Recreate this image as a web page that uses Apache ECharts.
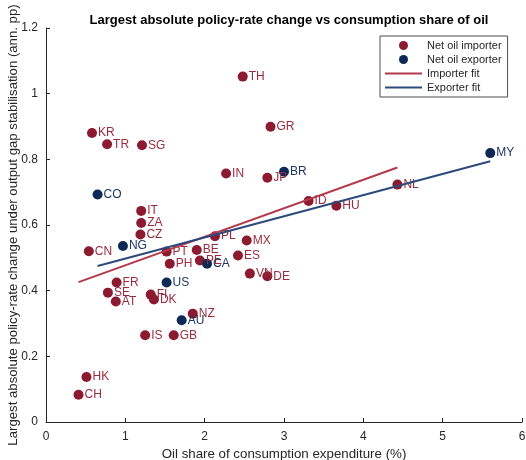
<!DOCTYPE html>
<html>
<head>
<meta charset="utf-8">
<script src="https://cdn.jsdelivr.net/npm/echarts@6/dist/echarts.min.js"></script>
<style>
  html, body { margin: 0; padding: 0; background: #fff; }
  #chart { width: 526px; height: 460px; }
</style>
</head>
<body>
<div id="chart"></div>
<script>
// Net oil importers: country code, oil share of consumption (%), policy-rate change (pp)
var importerCodes = ['KR','TR','SG','IT','ZA','CZ','CN','PT','BE','PE','PH','FR','SE','AT','FI','DK','NZ','IS','GB','HK','CH','IN','JP','ID','PL','MX','ES','VN','DE','NL','HU','TH','GR'];
var importerShare = [0.58,0.77,1.21,1.20,1.20,1.19,0.54,1.52,1.90,1.94,1.56,0.89,0.78,0.88,1.32,1.36,1.85,1.25,1.61,0.51,0.41,2.27,2.79,3.31,2.13,2.53,2.42,2.57,2.79,4.43,3.66,2.48,2.83];
var importerChange = [0.880,0.846,0.843,0.643,0.606,0.571,0.520,0.519,0.524,0.492,0.482,0.425,0.394,0.367,0.388,0.373,0.330,0.264,0.264,0.137,0.083,0.757,0.744,0.673,0.566,0.553,0.507,0.452,0.444,0.723,0.659,1.052,0.899];

// Net oil exporters
var exporterCodes = ['CO','NG','CA','US','AU','BR','MY'];
var exporterShare = [0.65,0.97,2.03,1.52,1.71,3.00,5.60];
var exporterChange = [0.693,0.536,0.482,0.425,0.310,0.762,0.819];

// Linear fit end points [share, change]
var importerFitX = [0.41, 4.43];
var importerFitY = [0.426, 0.775];
var exporterFitX = [0.65, 5.60];
var exporterFitY = [0.475, 0.794];

// Axis ticks
var xTicks = [0, 1, 2, 3, 4, 5, 6];
var yTicks = [0, 0.2, 0.4, 0.6, 0.8, 1, 1.2];

var RED = '#8c1a30';
var BLUE = '#0d2a57';
var RED_LINE = '#b23a4c';
var BLUE_LINE = '#2c4a7a';
var FONT = '"Liberation Sans", Arial, Helvetica, sans-serif';
var LINE_ICON = 'path://M0,0 L37,0 L37,2 L0,2 Z';

function points(xs, ys, codes) {
  return xs.map(function (x, i) { return { value: [x, ys[i]], name: codes[i] }; });
}
function pairs(xs, ys) {
  return xs.map(function (x, i) { return [x, ys[i]]; });
}

var chart = echarts.init(document.getElementById('chart'), null, { renderer: 'canvas' });

var axisCommon = {
  axisLine: { show: true, onZero: false, lineStyle: { color: '#262626', width: 1 } },
  axisTick: { show: true, inside: true, length: 4, lineStyle: { color: '#262626' } },
  splitLine: { show: false },
  axisLabel: { color: '#262626', fontSize: 12, fontFamily: FONT }
};

chart.setOption({
  animation: false,
  backgroundColor: '#ffffff',
  textStyle: { fontFamily: FONT },
  title: {
    text: 'Largest absolute policy-rate change vs consumption share of oil',
    left: 284,
    textAlign: 'center',
    top: 9,
    textStyle: { fontSize: 13, fontWeight: 'bold', color: '#000', fontFamily: FONT }
  },
  grid: { left: 46, right: 4, top: 28, bottom: 38, containLabel: false, outerBoundsMode: 'none' },
  xAxis: Object.assign({}, axisCommon, {
    type: 'value',
    min: xTicks[0],
    max: xTicks[xTicks.length - 1],
    interval: xTicks[1] - xTicks[0],
    name: 'Oil share of consumption expenditure (%)',
    nameLocation: 'middle',
    nameGap: 22,
    nameTextStyle: { color: '#262626', fontSize: 13.3, fontFamily: FONT },
    axisLabel: Object.assign({}, axisCommon.axisLabel, { margin: 9 })
  }),
  yAxis: Object.assign({}, axisCommon, {
    type: 'value',
    min: yTicks[0],
    max: yTicks[yTicks.length - 1],
    interval: 0.2,
    name: 'Largest absolute policy-rate change under output gap stabilisation (ann. pp)',
    nameLocation: 'middle',
    nameGap: 26,
    nameMoveOverlap: false,
    nameTextStyle: { color: '#262626', fontSize: 13.2, fontFamily: FONT },
    axisLabel: Object.assign({}, axisCommon.axisLabel, {
      margin: 8,
      formatter: function (v) { return String(Math.round(v * 10) / 10); }
    })
  }),
  legend: {
    orient: 'vertical',
    left: 380,
    top: 36,
    padding: [4, 6, 4, 5],
    itemWidth: 37,
    itemHeight: 9,
    itemGap: 3,
    symbolKeepAspect: true,
    borderColor: '#4d4d4d',
    borderWidth: 1,
    backgroundColor: '#ffffff',
    textStyle: { fontSize: 11, color: '#262626', fontFamily: FONT },
    data: [
      { name: 'Net oil importer', icon: 'circle' },
      { name: 'Net oil exporter', icon: 'circle' },
      { name: 'Importer fit', icon: LINE_ICON },
      { name: 'Exporter fit', icon: LINE_ICON }
    ]
  },
  series: [
    {
      name: 'Net oil importer',
      type: 'scatter',
      symbol: 'circle',
      symbolSize: 10,
      itemStyle: { color: RED, opacity: 1 },
      label: {
        show: true, position: 'right', distance: 1,
        formatter: '{b}', color: '#9a2a3e', fontSize: 12, fontFamily: FONT
      },
      data: points(importerShare, importerChange, importerCodes),
      z: 3
    },
    {
      name: 'Net oil exporter',
      type: 'scatter',
      symbol: 'circle',
      symbolSize: 10,
      itemStyle: { color: BLUE, opacity: 1 },
      label: {
        show: true, position: 'right', distance: 1,
        formatter: '{b}', color: '#1c3763', fontSize: 12, fontFamily: FONT
      },
      data: points(exporterShare, exporterChange, exporterCodes),
      z: 3
    },
    {
      name: 'Importer fit',
      type: 'line',
      symbol: 'none',
      lineStyle: { color: RED_LINE, width: 2 },
      itemStyle: { color: RED_LINE },
      data: pairs(importerFitX, importerFitY),
      z: 4
    },
    {
      name: 'Exporter fit',
      type: 'line',
      symbol: 'none',
      lineStyle: { color: BLUE_LINE, width: 2 },
      itemStyle: { color: BLUE_LINE },
      data: pairs(exporterFitX, exporterFitY),
      z: 4
    }
  ]
});
</script>
</body>
</html>
